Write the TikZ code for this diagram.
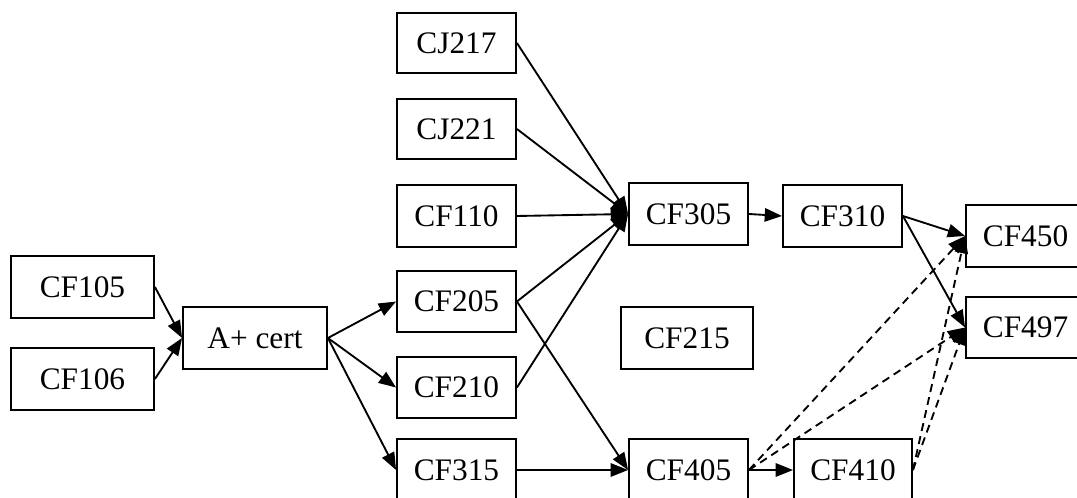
\documentclass[tikz,border=0pt]{standalone}
\usepackage{fontspec}
\setmainfont{Liberation Serif}
\usetikzlibrary{arrows.meta}
\begin{document}
\begin{tikzpicture}[x=0.75pt,y=-0.75pt,
  box/.style={draw=black,line width=1.4pt,fill=white,inner sep=0pt,
    minimum width=89.25pt,minimum height=46.5pt,font=\fontsize{23.5}{28}\selectfont},
  wbox/.style={box,minimum width=107.25pt},
  link/.style={line width=1.4pt,-{Triangle[length=13pt,width=10pt]}},
  dlink/.style={link,dash pattern=on 6pt off 4pt}]
\useasboundingbox (0,0) rectangle (1077,498);
\fill[white] (0,0) rectangle (1077,498);
% nodes
\node[wbox] (cf105) at (82.5,287) {CF105};
\node[wbox] (cf106) at (82.5,379) {CF106};
\node[wbox,minimum width=108pt] (acert) at (255,338) {A+ cert};
\node[box,minimum height=45pt] (cj217) at (456.5,43) {CJ217};
\node[box,minimum height=45pt] (cj221) at (456.5,129) {CJ221};
\node[box] (cf110) at (456.5,216) {CF110};
\node[box,minimum height=45.75pt] (cf205) at (456.5,301.5) {CF205};
\node[box,minimum height=45.75pt] (cf210) at (456.5,387.5) {CF210};
\node[box] (cf315) at (456.5,470) {CF315};
\node[box] (cf305) at (688.5,214) {CF305};
\node[box,minimum width=99pt] (cf215) at (687,338) {CF215};
\node[box] (cf405) at (688.5,470) {CF405};
\node[box] (cf310) at (842.5,216) {CF310};
\node[box,minimum width=88.5pt] (cf410) at (853,470) {CF410};
\node[box] (cf450) at (1025.5,236) {CF450};
\node[box,minimum height=45.75pt] (cf497) at (1025.5,327.5) {CF497};
% connectors
\draw[link] (cf105.east) -- (acert.west);
\draw[link] (cf106.east) -- (acert.west);
\draw[link] (acert.east) -- (cf205.west);
\draw[link] (acert.east) -- (cf210.west);
\draw[link] (acert.east) -- (cf315.west);
\draw[link] (cj217.east) -- (cf305.west);
\draw[link] (cj221.east) -- (cf305.west);
\draw[link] (cf110.east) -- (cf305.west);
\draw[link] (cf205.east) -- (cf305.west);
\draw[link] (cf210.east) -- (cf305.west);
\draw[link] (cf205.east) -- (cf405.west);
\draw[link] (cf315.east) -- (cf405.west);
\draw[link] (cf305.east) -- (cf310.west);
\draw[link] (cf310.east) -- (cf450.west);
\draw[link] (cf310.east) -- (cf497.west);
\draw[link] (cf405.east) -- (cf410.west);
\draw[dlink] (cf405.east) -- (cf450.west);
\draw[dlink] (cf405.east) -- (cf497.west);
\draw[dlink] (cf410.east) -- (cf450.west);
\draw[dlink] (cf410.east) -- (cf497.west);
\end{tikzpicture}
\end{document}
